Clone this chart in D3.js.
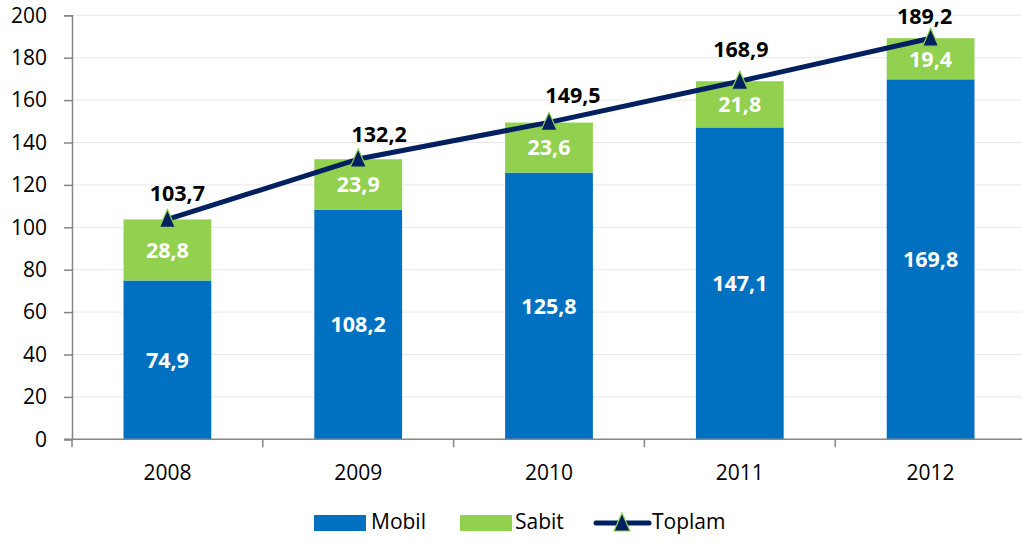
<!DOCTYPE html>
<html>

<head>
  <script src="https://d3js.org/d3.v7.min.js"></script>
  <style>
    body { margin: 0; background: #fff; }
    text { font-family: "Open Sans", "Noto Sans", sans-serif; }
  </style>
</head>

<body>

  <div id="chart"></div>

  <script>
    const years = ["2008", "2009", "2010", "2011", "2012"];
    const mobil = [74.9, 108.2, 125.8, 147.1, 169.8];
    const sabit = [28.8, 23.9, 23.6, 21.8, 19.4];
    const toplam = [103.7, 132.2, 149.5, 168.9, 189.2];
    const yTicks = [0, 20, 40, 60, 80, 100, 120, 140, 160, 180, 200];

    // total labels were nudged by hand in the original
    const totalLabelDx = [10, 21, 24, 1, -6];
    const totalLabelDy = [-18, -17, -19, -24, -14];

    const width = 1022;
    const height = 543;

    const fmt = v => v.toFixed(1).replace(".", ",");

    var svg = d3.select("#chart")
      .append("svg")
      .attr("width", width)
      .attr("height", height);

    var x = d3.scaleBand()
      .domain(years)
      .range([72, 1026])
      .paddingInner(0.54)
      .paddingOuter(0.27);

    var y = d3.scaleLinear()
      .domain([0, 200])
      .range([439.3, 15.3]);

    var cx = d => x(d) + x.bandwidth() / 2;

    // gridlines
    svg.append("g")
      .selectAll("line")
      .data(yTicks.slice(1))
      .enter().append("line")
      .attr("x1", 72)
      .attr("x2", width)
      .attr("y1", d => y(d))
      .attr("y2", d => y(d))
      .attr("stroke", "#e8e8e8")
      .attr("stroke-width", 1);

    // y axis
    var yAxis = svg.append("g")
      .attr("transform", "translate(72,0)")
      .call(d3.axisLeft(y).tickValues(yTicks).tickSize(8).tickPadding(17));
    yAxis.select(".domain").attr("stroke", "#868686").attr("stroke-width", 1.5);
    yAxis.selectAll(".tick line").attr("stroke", "#868686").attr("stroke-width", 1.5);
    yAxis.selectAll("text").attr("font-size", 21).attr("fill", "#000")
      .style("font-family", "'Open Sans', sans-serif");

    // bars
    var bars = svg.append("g");
    bars.selectAll(".mobil")
      .data(years)
      .enter().append("rect")
      .attr("x", d => x(d))
      .attr("width", x.bandwidth())
      .attr("y", (d, i) => y(mobil[i]))
      .attr("height", (d, i) => y(0) - y(mobil[i]))
      .attr("fill", "#0070C0");

    bars.selectAll(".sabit")
      .data(years)
      .enter().append("rect")
      .attr("x", d => x(d))
      .attr("width", x.bandwidth())
      .attr("y", (d, i) => y(mobil[i] + sabit[i]))
      .attr("height", (d, i) => y(mobil[i]) - y(mobil[i] + sabit[i]))
      .attr("fill", "#92D050");

    // x axis
    var xAxisG = svg.append("g");
    xAxisG.append("line")
      .attr("x1", 64).attr("x2", width)
      .attr("y1", y(0)).attr("y2", y(0))
      .attr("stroke", "#868686").attr("stroke-width", 1.5);
    var step = x.step();
    xAxisG.selectAll(".xt")
      .data(d3.range(years.length + 1))
      .enter().append("line")
      .attr("x1", i => 72 + i * step)
      .attr("x2", i => 72 + i * step)
      .attr("y1", y(0))
      .attr("y2", y(0) + 8)
      .attr("stroke", "#868686").attr("stroke-width", 1.5);
    xAxisG.selectAll("text")
      .data(years)
      .enter().append("text")
      .attr("x", cx)
      .attr("y", 480)
      .attr("text-anchor", "middle")
      .attr("font-size", 21)
      .text(d => d);

    // segment labels
    var labels = svg.append("g")
      .attr("fill", "#fff")
      .attr("font-size", 21.5)
      .attr("font-weight", "bold")
      .attr("text-anchor", "middle");
    labels.selectAll(".lm")
      .data(years)
      .enter().append("text")
      .attr("x", cx)
      .attr("y", (d, i) => y(mobil[i] / 2))
      .attr("dy", "0.36em")
      .text((d, i) => fmt(mobil[i]));
    labels.selectAll(".ls")
      .data(years)
      .enter().append("text")
      .attr("x", cx)
      .attr("y", (d, i) => y(mobil[i] + sabit[i] / 2))
      .attr("dy", "0.36em")
      .text((d, i) => fmt(sabit[i]));

    // total line
    var line = d3.line()
      .x((d, i) => cx(years[i]))
      .y(d => y(d));

    svg.append("path")
      .datum(toplam)
      .attr("d", line)
      .attr("fill", "none")
      .attr("stroke", "#002060")
      .attr("stroke-width", 5)
      .attr("stroke-linejoin", "round");

    var tri = "M0,-10L8,8L-8,8Z";
    svg.append("g")
      .selectAll("path")
      .data(toplam)
      .enter().append("path")
      .attr("d", tri)
      .attr("transform", (d, i) => "translate(" + cx(years[i]) + "," + y(d) + ")")
      .attr("fill", "#002060")
      .attr("stroke", "#92D050")
      .attr("stroke-width", 1.2);

    svg.append("g")
      .attr("font-size", 21.5)
      .attr("font-weight", "bold")
      .attr("text-anchor", "middle")
      .selectAll("text")
      .data(toplam)
      .enter().append("text")
      .attr("x", (d, i) => cx(years[i]) + totalLabelDx[i])
      .attr("y", (d, i) => y(d) + totalLabelDy[i])
      .text(d => fmt(d));

    // legend
    var legend = svg.append("g").attr("font-size", 21);
    legend.append("rect").attr("x", 314).attr("y", 515).attr("width", 52).attr("height", 16).attr("fill", "#0070C0");
    legend.append("text").attr("x", 371).attr("y", 529).text("Mobil");
    legend.append("rect").attr("x", 460).attr("y", 515).attr("width", 52).attr("height", 16).attr("fill", "#92D050");
    legend.append("text").attr("x", 515).attr("y", 529).text("Sabit");
    legend.append("line").attr("x1", 596).attr("x2", 649).attr("y1", 523).attr("y2", 523)
      .attr("stroke", "#002060").attr("stroke-width", 5).attr("stroke-linecap", "round");
    legend.append("path").attr("d", tri).attr("transform", "translate(622,523)")
      .attr("fill", "#002060").attr("stroke", "#92D050").attr("stroke-width", 1.2);
    legend.append("text").attr("x", 652).attr("y", 529).text("Toplam");
  </script>
</body>

</html>
